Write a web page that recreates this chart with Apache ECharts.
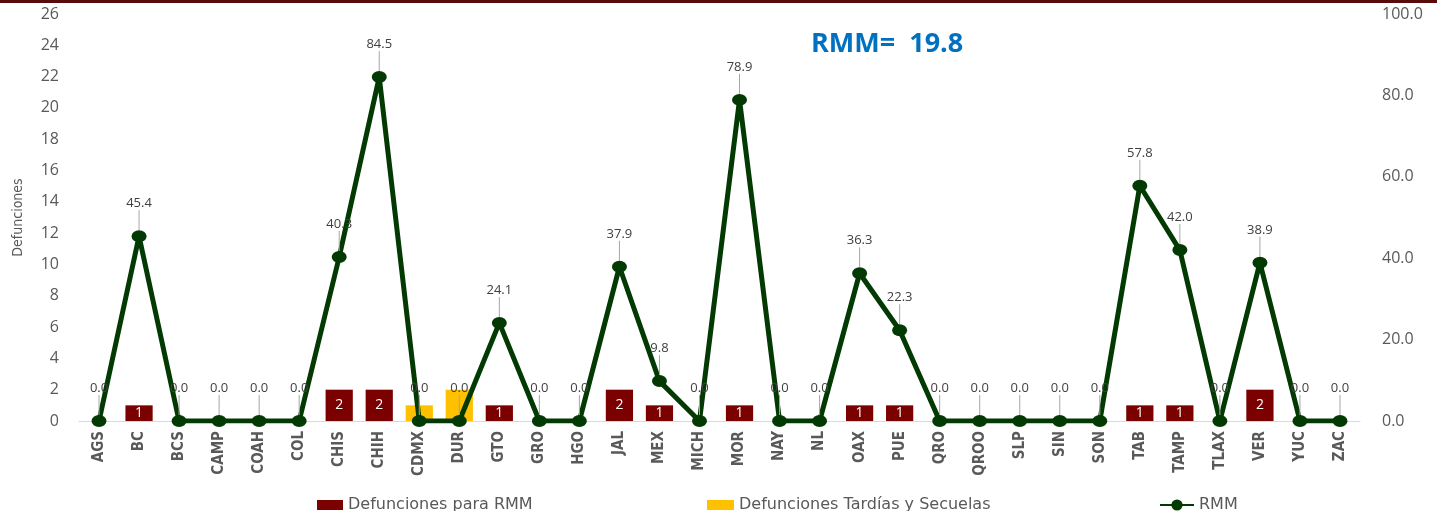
<!DOCTYPE html>
<html>
<head>
<meta charset="utf-8">
<script src="https://cdn.jsdelivr.net/npm/echarts@6/dist/echarts.min.js"></script>
<style>
  html, body { margin: 0; padding: 0; background: #fff; }
  #chart { width: 1437px; height: 511px; }
</style>
</head>
<body>
<div id="chart"></div>
<script>
// estados
const categories = ["AGS", "BC", "BCS", "CAMP", "COAH", "COL", "CHIS", "CHIH", "CDMX", "DUR",
  "GTO", "GRO", "HGO", "JAL", "MEX", "MICH", "MOR", "NAY", "NL", "OAX", "PUE", "QRO",
  "QROO", "SLP", "SIN", "SON", "TAB", "TAMP", "TLAX", "VER", "YUC", "ZAC"];

const defuncionesRMM = [0, 1, 0, 0, 0, 0, 2, 2, 0, 0, 1, 0, 0, 2, 1, 0, 1, 0, 0, 1, 1, 0,
  0, 0, 0, 0, 1, 1, 0, 2, 0, 0];

const defuncionesTardias = [0, 0, 0, 0, 0, 0, 0, 0, 1, 2, 0, 0, 0, 0, 0, 0, 0, 0, 0, 0, 0, 0,
  0, 0, 0, 0, 0, 0, 0, 0, 0, 0];

const rmm = [0, 45.4, 0, 0, 0, 0, 40.3, 84.5, 0, 0, 24.1, 0, 0, 37.9, 9.8, 0, 78.9, 0, 0, 36.3,
  22.3, 0, 0, 0, 0, 0, 57.8, 42.0, 0, 38.9, 0, 0];

const rmmNacional = "19.8";

const myChart = echarts.init(document.getElementById("chart"));

const grey = "#595959";
const narrow = "'DejaVu Sans Condensed', 'Liberation Sans', sans-serif";

function legendAt(left, name, icon, w) {
  return {
    left: left,
    bottom: -7,
    itemWidth: w,
    itemHeight: icon === "rect" ? 10 : 14,
    textStyle: {
      color: grey,
      fontSize: 16,
      fontFamily: "DejaVu Sans",
    },
    data: [icon ? { name: name, icon: icon } : { name: name }],
  };
}

var option = {
  animation: false,
  title: {
    text: "RMM=  " + rmmNacional,
    left: 806,
    top: 26,
    textStyle: {
      color: "#0070c0",
      fontSize: 27,
      fontWeight: "bold",
      fontFamily: "Open Sans",
    },
  },
  graphic: [
    {
      type: "rect",
      left: 0,
      top: 0,
      shape: { width: 1437, height: 3 },
      style: { fill: "#5a0a0a" },
    },
  ],
  legend: [
    legendAt(312, "Defunciones para RMM", "rect", 26),
    legendAt(702, "Defunciones Tardías y Secuelas", "rect", 27),
    legendAt(1154, "RMM", null, 34),
  ],
  grid: {
    left: 79,
    right: 77,
    top: 14,
    bottom: 90,
  },
  xAxis: {
    type: "category",
    data: categories,
    axisLine: { lineStyle: { color: "#d9d9d9", width: 1 } },
    axisTick: { show: false },
    axisLabel: {
      rotate: 90,
      interval: 0,
      margin: 10,
      color: grey,
      fontSize: 15,
      fontWeight: "bold",
      fontFamily: narrow,
    },
  },
  yAxis: [
    {
      type: "value",
      min: 0,
      max: 26,
      interval: 2,
      name: "Defunciones",
      nameLocation: "middle",
      nameGap: 54,
      nameTextStyle: {
        color: grey,
        fontSize: 14,
        fontFamily: narrow,
      },
      splitLine: { show: false },
      axisLine: { show: false },
      axisTick: { show: false },
      axisLabel: {
        color: grey,
        fontSize: 16,
        margin: 20,
        fontFamily: "Open Sans",
      },
    },
    {
      type: "value",
      min: 0,
      max: 100,
      interval: 20,
      splitLine: { show: false },
      axisLine: { show: false },
      axisTick: { show: false },
      axisLabel: {
        color: grey,
        fontSize: 16,
        margin: 22,
        fontFamily: "Open Sans",
        formatter(v) {
          return v.toFixed(1);
        },
      },
    },
  ],
  series: [
    {
      name: "Defunciones para RMM",
      type: "bar",
      stack: "def",
      barWidth: "68%",
      itemStyle: { color: "#7b0000" },
      data: defuncionesRMM,
      label: {
        show: true,
        position: "inside",
        color: "#fff",
        fontSize: 14,
        fontFamily: "Open Sans",
        formatter(p) {
          return p.value ? String(p.value) : "";
        },
      },
    },
    {
      name: "Defunciones Tardías y Secuelas",
      type: "bar",
      stack: "def",
      barWidth: "68%",
      itemStyle: { color: "#ffc000" },
      data: defuncionesTardias,
    },
    {
      name: "RMM",
      type: "line",
      yAxisIndex: 1,
      data: rmm,
      symbol: "circle",
      symbolSize: [15, 12],
      lineStyle: { color: "#033a03", width: 5 },
      itemStyle: { color: "#033a03" },
      z: 5,
      label: {
        show: true,
        position: "top",
        distance: 6,
        color: "#404040",
        fontSize: 13,
        fontFamily: "Open Sans",
        formatter(p) {
          return p.value.toFixed(1);
        },
      },
      labelLayout: {
        dy: -14,
      },
      labelLine: {
        show: true,
        lineStyle: { color: "#a6a6a6", width: 1 },
      },
    },
  ],
};

option && myChart.setOption(option);
</script>
</body>
</html>
